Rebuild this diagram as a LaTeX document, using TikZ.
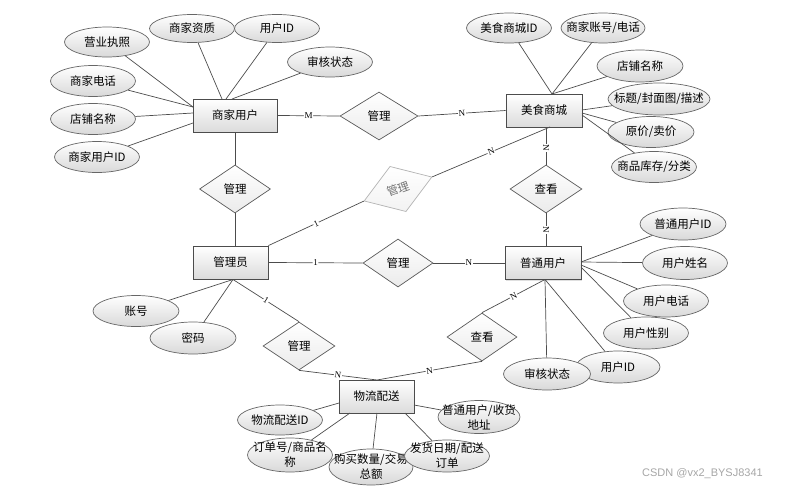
\documentclass[tikz,border=0pt]{standalone}
\usepackage{fontspec}
\newfontfamily\cjk{Noto Sans CJK SC}
\newfontfamily\cardfont{Liberation Serif}
\newfontfamily\wmfont{Liberation Sans}
\usetikzlibrary{shapes.geometric,shadows}
\begin{document}
\begin{tikzpicture}[x=1pt,y=-1pt,
  ent/.style={draw=black!70, line width=0.8pt, top color=white, bottom color=black!14,
    minimum width=76pt, minimum height=33pt, inner sep=0pt,
    font=\cjk\fontsize{11.5}{13}\selectfont,
    drop shadow={shadow xshift=1.2pt, shadow yshift=-1.2pt, opacity=0.25}},
  rel/.style={diamond, draw=black!65, line width=0.7pt, top color=white, bottom color=black!8,
    minimum width=72pt, minimum height=48pt, inner sep=0pt,
    font=\cjk\fontsize{11.5}{13}\selectfont},
  attr/.style={ellipse, draw=black!60, line width=0.7pt, top color=white, bottom color=black!15,
    minimum width=85pt, minimum height=31pt, inner sep=0pt},
  atxt/.style={font=\cjk\fontsize{11.5}{15}\selectfont, align=center, inner sep=0pt},
  conn/.style={draw=black!70, line width=0.7pt},
  card/.style={font=\cardfont\fontsize{9}{9}\selectfont, fill=white, inner sep=0.6pt, sloped},
]
\useasboundingbox (0,0) rectangle (812,490);

% entities
\node[ent, minimum width=84pt] (mu) at (235,115.5) {商家用户};
\node[ent] (msc) at (544,110.5) {美食商城};
\node[ent, minimum width=75pt] (gly) at (230.5,262.5) {管理员};
\node[ent] (pt) at (543,263) {普通用户};
\node[ent, minimum width=75pt] (wl) at (376.5,396.5) {物流配送};

% relations
\node[rel, minimum width=78pt] (r1) at (379,116) {管理};
\node[rel, minimum width=71pt] (r2) at (235,189) {管理};
\node[rel, rotate=19.5, draw=black!30, bottom color=black!5, text=black!55] (r3) at (398,189) {管理};
\node[rel, minimum width=70pt] (r4) at (398,263) {管理};
\node[rel] (c1) at (546,189) {查看};
\node[rel] (r5) at (299,346) {管理};
\node[rel, minimum width=70pt] (c2) at (482,337) {查看};

% border points
\coordinate (gly-t) at (235,246);
\coordinate (gly-b) at (233,279.5);
\coordinate (msc-b) at (546,127);
\coordinate (msc-r) at (550,127);
\coordinate (pt-t) at (546,246.5);
\coordinate (pt-b) at (545,279.5);
\coordinate (wl-t) at (377,380);

% relationship connectors
\draw[conn] (mu.east) -- node[card]{M} (r1.west);
\draw[conn] (r1.east) -- node[card]{N} (msc.west);
\draw[conn] (mu.south) -- (r2.north);
\draw[conn] (r2.south) -- (gly-t);
\draw[conn] (gly.north east) -- node[card]{1} (r3.west);
\draw[conn] (r3.east) -- node[card]{N} (msc-r);
\draw[conn] (gly.east) -- node[card]{1} (r4.west);
\draw[conn] (r4.east) -- node[card]{N} (pt.west);
\draw[conn] (msc-b) -- node[card, pos=0.55]{N} (c1.north);
\draw[conn] (c1.south) -- node[card]{N} (pt-t);
\draw[conn] (gly-b) -- node[card]{1} (r5.north);
\draw[conn] (r5.south) -- node[card]{N} (wl-t);
\draw[conn] (pt-b) -- node[card]{N} (c2.north);
\draw[conn] (c2.south) -- node[card]{N} (wl-t);

% 商家用户 attributes
\node[attr, minimum height=30pt, label={[atxt]center:营业执照}] (a1) at (107,42) {};
\node[attr, minimum height=28pt, label={[atxt]center:商家资质}] (a2) at (192,28.5) {};
\node[attr, minimum height=28pt, label={[atxt]center:用户ID}] (a3) at (277,28.5) {};
\node[attr, minimum height=30pt, label={[atxt]center:审核状态}] (a4) at (330,62) {};
\node[attr, label={[atxt]center:商家电话}] (a5) at (93,81) {};
\node[attr, label={[atxt]center:店铺名称}] (a6) at (93,119) {};
\node[attr, label={[atxt]center:商家用户ID}] (a7) at (97,157) {};
\coordinate (mu-p1) at (193,107);
\coordinate (mu-p2) at (222,99);
\coordinate (mu-p3) at (226,99);
\coordinate (mu-p4) at (232,99);
\coordinate (mu-p5) at (193,113);
\coordinate (mu-p6) at (193,123);
\draw[conn] (a1) -- (mu-p1);
\draw[conn] (a5) -- (mu-p1);
\draw[conn] (a2) -- (mu-p2);
\draw[conn] (a3) -- (mu-p3);
\draw[conn] (a4) -- (mu-p4);
\draw[conn] (a6) -- (mu-p5);
\draw[conn] (a7) -- (mu-p6);

% 美食商城 attributes
\node[attr, minimum height=30pt, label={[atxt]center:美食商城ID}] (b1) at (509,28) {};
\node[attr, minimum width=84pt, minimum height=30pt, label={[atxt]center:商家账号/电话}] (b2) at (603,28) {};
\node[attr, minimum width=86pt, minimum height=32pt, label={[atxt]center:店铺名称}] (b3) at (640,66) {};
\node[attr, minimum width=102pt, minimum height=32pt, label={[atxt]center:标题/封面图/描述}] (b4) at (659,99) {};
\node[attr, minimum width=86pt, label={[atxt]center:原价/卖价}] (b5) at (651,132) {};
\node[attr, label={[atxt]center:商品库存/分类}] (b6) at (654,167) {};
\coordinate (msc-p1) at (552,94);
\coordinate (msc-p2) at (582,110);
\coordinate (msc-p3) at (582,113);
\coordinate (msc-p4) at (582,115);
\draw[conn] (b1) -- (msc-p1);
\draw[conn] (b2) -- (msc-p1);
\draw[conn] (b3) -- (msc-p1);
\draw[conn] (b4) -- (msc-p2);
\draw[conn] (b5) -- (msc-p3);
\draw[conn] (b6) -- (msc-p4);

% 管理员 attributes
\node[attr, minimum width=86pt, label={[atxt]center:账号}] (g1) at (136,311) {};
\node[attr, minimum width=86pt, minimum height=32pt, label={[atxt]center:密码}] (g2) at (193,338) {};
\draw[conn] (g1) -- (gly-b);
\draw[conn] (g2) -- (gly-b);

% 普通用户 attributes
\node[attr, minimum width=86pt, minimum height=32pt, label={[atxt]center:普通用户ID}] (p1) at (683,224) {};
\node[attr, minimum height=33pt, label={[atxt]center:用户姓名}] (p2) at (685,263) {};
\node[attr, minimum height=32pt, label={[atxt]center:用户电话}] (p3) at (666,301) {};
\node[attr, minimum height=32pt, label={[atxt]center:用户性别}] (p4) at (646,333) {};
\node[attr, minimum width=84pt, minimum height=32pt, label={[atxt]center:用户ID}] (p5) at (618,367) {};
\node[attr, minimum width=87pt, minimum height=32pt, label={[atxt]center:审核状态}] (p6) at (547,374) {};
\coordinate (pt-p1) at (581,262);
\coordinate (pt-p2) at (581,265);
\coordinate (pt-p3) at (581,267);
\draw[conn] (p1) -- (pt-p1);
\draw[conn] (p2) -- (pt-p1);
\draw[conn] (p3) -- (pt-p2);
\draw[conn] (p4) -- (pt-p3);
\draw[conn] (p5) -- (pt-b);
\draw[conn] (p6) -- (pt-b);

% 物流配送 attributes
\node[attr, minimum height=30pt, label={[atxt]center:物流配送ID}] (w1) at (280,420) {};
\node[attr, minimum height=34pt, label={[atxt]center:{订单号/商品名\\称}}] (w2) at (290,455) {};
\node[attr, minimum width=84pt, minimum height=36pt, label={[atxt]center:{购买数量/交易\\总额}}] (w3) at (371,467) {};
\node[attr, minimum height=32pt, label={[atxt]center:{发货日期/配送\\订单}}] (w4) at (447,456) {};
\node[attr, minimum width=82pt, minimum height=33pt, label={[atxt]center:{普通用户/收货\\地址}}] (w5) at (479,417) {};
\coordinate (wl-p1) at (339,403);
\coordinate (wl-p2) at (350,413);
\coordinate (wl-p3) at (377,413);
\coordinate (wl-p4) at (405,413);
\coordinate (wl-p5) at (414,405);
\draw[conn] (w1) -- (wl-p1);
\draw[conn] (w2) -- (wl-p2);
\draw[conn] (w3) -- (wl-p3);
\draw[conn] (w4) -- (wl-p4);
\draw[conn] (w5) -- (wl-p5);

% watermark
\node[font=\wmfont\fontsize{11}{11}\selectfont, text=black!35, anchor=west, inner sep=0pt] (wm) at (642,474) {CSDN @vx2\_BYSJ8341};
\end{tikzpicture}
\end{document}
